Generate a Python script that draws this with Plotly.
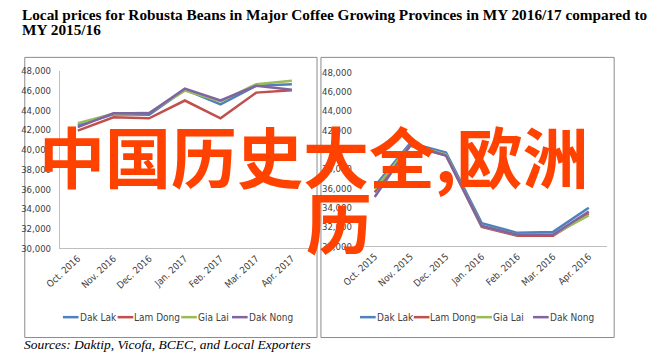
import plotly.graph_objects as go

# ---------------- data ----------------
months_1617 = ["Oct. 2016", "Nov. 2016", "Dec. 2016", "Jan. 2017", "Feb. 2017", "Mar. 2017", "Apr. 2017"]
months_1516 = ["Oct. 2015", "Nov. 2015", "Dec. 2015", "Jan. 2016", "Feb. 2016", "Mar. 2016", "Apr. 2016"]

series_names = ["Dak Lak", "Lam Dong", "Gia Lai", "Dak Nong"]
series_colors = ["#4F81BD", "#C0504D", "#9BBB59", "#8064A2"]

dak_lak_1617 = [42500, 43600, 43550, 46100, 44600, 46500, 46650]
lam_dong_1617 = [41950, 43300, 43200, 45000, 43200, 45800, 46050]
gia_lai_1617 = [42700, 43650, 43750, 46000, 44900, 46650, 47000]
dak_nong_1617 = [42300, 43700, 43700, 46200, 45000, 46500, 46100]

dak_lak_1516 = [36200, 40700, 39700, 32400, 31400, 31500, 34000]
lam_dong_1516 = [35600, 40400, 39400, 32000, 31100, 31100, 33400]
gia_lai_1516 = [35900, 40500, 39500, 32100, 31200, 31200, 33200]
dak_nong_1516 = [35100, 40500, 39400, 32100, 31200, 31200, 33600]

y_ticks = [30000, 32000, 34000, 36000, 38000, 40000, 42000, 44000, 46000, 48000]
y_tick_labels = ["30,000", "32,000", "34,000", "36,000", "38,000", "40,000", "42,000", "44,000", "46,000", "48,000"]

title_line1 = "Local prices for Robusta Beans in Major Coffee Growing Provinces in MY 2016/17 compared to"
title_line2 = "MY 2015/16"
source_text = "Sources: Daktip, Vicofa, BCEC, and Local Exporters"
watermark_line1 = "中国历史大全,欧洲"
watermark_line2 = "历"

# ---------------- figure ----------------
W, H = 665, 359
def px(x):
    return x / W
def py(y):
    return 1 - y / H

fig = go.Figure()

left_series = [dak_lak_1617, lam_dong_1617, gia_lai_1617, dak_nong_1617]
right_series = [dak_lak_1516, lam_dong_1516, gia_lai_1516, dak_nong_1516]

for name, color, vals in zip(series_names, series_colors, left_series):
    fig.add_trace(go.Scatter(x=months_1617, y=vals, mode="lines", name=name,
                             line=dict(color=color, width=2.5), xaxis="x", yaxis="y",
                             showlegend=False))
for name, color, vals in zip(series_names, series_colors, right_series):
    fig.add_trace(go.Scatter(x=months_1516, y=vals, mode="lines", name=name,
                             line=dict(color=color, width=2.5), xaxis="x2", yaxis="y2",
                             showlegend=False))

narrow = "DejaVu Sans Condensed, Roboto Condensed, Liberation Sans Narrow, Roboto, sans-serif"
tick_font = dict(family=narrow, size=9.5, color="#404040")

common_x = dict(type="category", range=[-0.5, 6.5], showgrid=False, zeroline=False,
                showline=True, linecolor="#BFBFBF", linewidth=1, ticks="",
                tickangle=-43, tickfont=tick_font, fixedrange=True)
common_y = dict(range=[30000, 48000], tickvals=y_ticks, ticktext=y_tick_labels,
                showgrid=False, zeroline=False, ticks="", tickfont=tick_font, fixedrange=True)

fig.update_layout(
    width=W, height=H,
    margin=dict(l=0, r=0, t=0, b=0),
    paper_bgcolor="white", plot_bgcolor="white",
    showlegend=False,
    xaxis=dict(domain=[px(46), px(301.5)], anchor="y", **common_x),
    yaxis=dict(domain=[py(250), py(67)], anchor="x", showline=True, linecolor="#BFBFBF",
               ticklabelstandoff=6, **common_y),
    xaxis2=dict(domain=[px(349.75), px(605.25)], anchor="y2", **common_x),
    yaxis2=dict(domain=[py(248), py(68.3)], anchor="x2", showline=False,
                ticklabelstandoff=4, **common_y),
)

# chart boxes
for x0, x1 in [(10, 309), (313, 613)]:
    fig.add_shape(type="rect", xref="paper", yref="paper",
                  x0=px(x0), x1=px(x1), y0=py(342), y1=py(53),
                  line=dict(color="#8C8C8C", width=1), fillcolor="rgba(0,0,0,0)", layer="below")

# manual legends
legend_font = dict(family=narrow, size=10, color="#404040")
legend_left_x = [49, 105, 170, 222]
legend_right_x = [353, 408, 472, 530]
legend_y = 321
for starts in (legend_left_x, legend_right_x):
    for x0, name, color in zip(starts, series_names, series_colors):
        fig.add_shape(type="line", xref="paper", yref="paper",
                      x0=px(x0), x1=px(x0 + 16), y0=py(legend_y), y1=py(legend_y),
                      line=dict(color=color, width=2.5))
        fig.add_annotation(x=px(x0 + 16), y=py(legend_y), xref="paper", yref="paper",
                           text=name, showarrow=False, xanchor="left", yanchor="middle",
                           font=legend_font, borderpad=0)

# title and source
title_font = dict(family="Liberation Serif, Times New Roman, serif", size=15.3, color="#000000")
fig.add_annotation(x=px(6), y=py(8.5), xref="paper", yref="paper", text="<b>%s</b>" % title_line1,
                   showarrow=False, xanchor="left", yanchor="middle", font=title_font, borderpad=0)
fig.add_annotation(x=px(6), y=py(24), xref="paper", yref="paper", text="<b>%s</b>" % title_line2,
                   showarrow=False, xanchor="left", yanchor="middle", font=title_font, borderpad=0)
fig.add_annotation(x=px(8), y=py(349), xref="paper", yref="paper", text="<i>%s</i>" % source_text,
                   showarrow=False, xanchor="left", yanchor="middle", borderpad=0,
                   font=dict(family="Liberation Serif, Times New Roman, serif", size=13.5, color="#000000"))

# watermark overlay
wm_font = dict(family="Noto Sans CJK SC, sans-serif", size=66, color="#FF4200", weight="bold")
fig.add_annotation(x=px(24), y=py(153), xref="paper", yref="paper", text=watermark_line1,
                   showarrow=False, xanchor="left", yanchor="middle", font=wm_font, borderpad=0)
fig.add_annotation(x=px(297), y=py(221), xref="paper", yref="paper", text=watermark_line2,
                   showarrow=False, xanchor="left", yanchor="middle", font=wm_font, borderpad=0)

fig.write_html("out.html", config={"displayModeBar": False},
               post_script="document.body.style.margin='0';")
